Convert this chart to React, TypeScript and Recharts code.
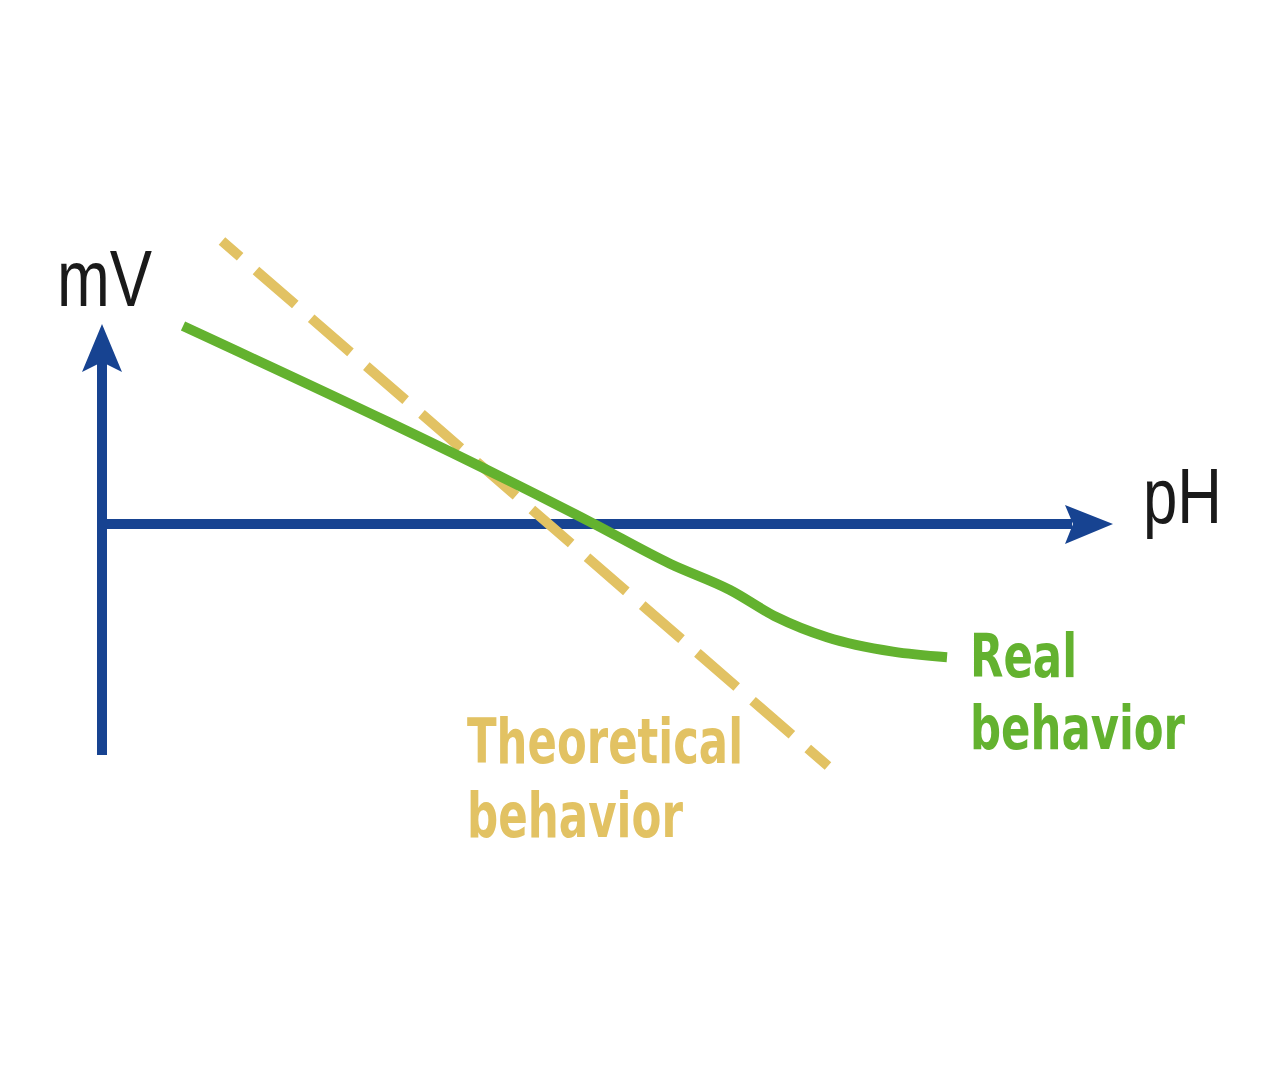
import { LineChart, Line, XAxis, YAxis, ReferenceLine } from "recharts";

// pH values along the x axis, mV along the y axis (schematic units)
const theoreticalPH = [1.663, 10.063];
const theoreticalMV = [262.0, -224.1];

const realPH = [1.123, 6.806, 7.873, 8.705, 9.356, 10.049, 10.964, 11.713];
const realMV = [183.3, 0.6, -36.8, -61.1, -86.4, -104.9, -118.2, -123.4];

const axisXEnd = 14;
const axisYBottom = -213.9;
const axisYTop = 185.2;

const theoretical = theoreticalPH.map((ph, i) => ({ ph, mv: theoreticalMV[i] }));
const real = realPH.map((ph, i) => ({ ph, mv: realMV[i] }));

const BLUE = "#174391";
const GREEN = "#63b22f";
const GOLD = "#e2c263";

const HArrow = (p: any) => {
  const { x1, y1, x2 } = p;
  return (
    <g>
      <line x1={x1 - 5} y1={y1} x2={x2 - 40} y2={y1} stroke={BLUE} strokeWidth={10} />
      <polygon points={`${x2 + 1},${y1} ${x2 - 47},${y1 - 19} ${x2 - 39},${y1} ${x2 - 47},${y1 + 20}`} fill={BLUE} />
    </g>
  );
};

const VArrow = (p: any) => {
  const { x1, y1, y2 } = p;
  return (
    <g>
      <line x1={x1} y1={y1} x2={x1} y2={y2 + 38} stroke={BLUE} strokeWidth={10} />
      <polygon points={`${x1},${y2} ${x1 - 20},${y2 + 48} ${x1},${y2 + 38} ${x1 + 20},${y2 + 48}`} fill={BLUE} />
    </g>
  );
};

const labelFont = "'Liberation Sans Narrow', 'DejaVu Sans Condensed', 'Liberation Sans', sans-serif";
const axisFont = "'Liberation Sans', Arial, sans-serif";

export default function App() {
  return (
    <div style={{ position: "absolute", left: 0, top: 0, width: 1280, height: 1076, background: "#fff" }}>
      <LineChart width={1280} height={1076} margin={{ top: 200, right: 168, bottom: 228, left: 102 }}>
        <XAxis type="number" dataKey="ph" domain={[0, 14]} hide />
        <YAxis type="number" dataKey="mv" domain={[-300, 300]} hide />
        <ReferenceLine
          segment={[{ x: 0, y: 0 }, { x: axisXEnd, y: 0 }]}
          ifOverflow="visible"
          shape={HArrow}
        />
        <ReferenceLine
          segment={[{ x: 0, y: axisYBottom }, { x: 0, y: axisYTop }]}
          ifOverflow="visible"
          shape={VArrow}
        />
        <Line
          data={theoretical}
          dataKey="mv"
          type="linear"
          stroke={GOLD}
          strokeWidth={10}
          strokeDasharray="52 21"
          strokeDashoffset={28}
          dot={false}
          activeDot={false}
          isAnimationActive={false}
        />
        <Line
          data={real}
          dataKey="mv"
          type="monotone"
          stroke={GREEN}
          strokeWidth={10}
          strokeLinejoin="round"
          dot={false}
          activeDot={false}
          isAnimationActive={false}
        />
        <text x={57} y={306} fontSize={80} fontFamily={axisFont} fill="#1a1a1a" textLength={95} lengthAdjust="spacingAndGlyphs">
          mV
        </text>
        <text x={1143} y={523} fontSize={78} fontFamily={axisFont} fill="#1a1a1a" textLength={79} lengthAdjust="spacingAndGlyphs">
          pH
        </text>
        <text x={970} y={677} fontSize={61} fontWeight="bold" fontFamily={labelFont} fill={GREEN} textLength={107} lengthAdjust="spacingAndGlyphs">
          Real
        </text>
        <text x={970} y={749} fontSize={61} fontWeight="bold" fontFamily={labelFont} fill={GREEN} textLength={215} lengthAdjust="spacingAndGlyphs">
          behavior
        </text>
        <text x={467} y={763} fontSize={62} fontWeight="bold" fontFamily={labelFont} fill={GOLD} textLength={276} lengthAdjust="spacingAndGlyphs">
          Theoretical
        </text>
        <text x={467} y={837} fontSize={62} fontWeight="bold" fontFamily={labelFont} fill={GOLD} textLength={216} lengthAdjust="spacingAndGlyphs">
          behavior
        </text>
      </LineChart>
    </div>
  );
}
